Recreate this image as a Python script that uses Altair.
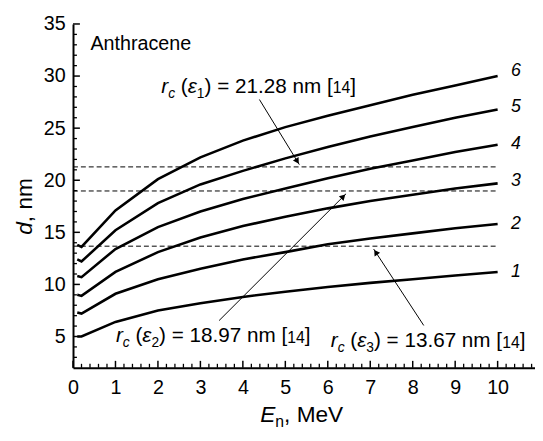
import math
import altair as alt
import pandas as pd

# ---------------- data ----------------
E_MEV = [0.1, 0.2, 1, 2, 3, 4, 5, 6, 7, 8, 9, 10]
D1 = [5.0, 5.0, 6.4, 7.5, 8.2, 8.8, 9.3, 9.75, 10.15, 10.5, 10.85, 11.2]
D2 = [7.3, 7.2, 9.1, 10.5, 11.5, 12.4, 13.1, 13.85, 14.4, 14.9, 15.4, 15.8]
D3 = [9.0, 8.9, 11.2, 13.1, 14.5, 15.6, 16.5, 17.3, 18.0, 18.6, 19.2, 19.7]
D4 = [10.8, 10.7, 13.4, 15.5, 17.0, 18.2, 19.2, 20.2, 21.1, 21.9, 22.7, 23.4]
D5 = [12.4, 12.2, 15.2, 17.8, 19.6, 20.9, 22.1, 23.2, 24.2, 25.1, 26.0, 26.8]
D6 = [13.8, 13.6, 17.1, 20.1, 22.2, 23.8, 25.1, 26.2, 27.2, 28.2, 29.1, 30.0]
CURVES = [D1, D2, D3, D4, D5, D6]
CURVE_NAMES = ["1", "2", "3", "4", "5", "6"]
CURVE_LABEL_Y = [11.2, 15.8, 19.9, 23.5, 27.0, 30.5]
CURVE_LABEL_X = 10.43

RC_LEVELS = [21.28, 18.97, 13.67]
RC_TEXT = ["21.28", "18.97", "13.67"]
EPS_INDEX = ["1", "2", "3"]
REF_TEXT = "14"
ANN_X = [2.08, 1.01, 6.07]
ANN_Y = [28.95, 5.03, 4.55]
ARROW_X1 = [4.39, 3.44, 8.26]
ARROW_Y1 = [27.75, 6.53, 6.06]
ARROW_X2 = [5.33, 6.43, 7.08]
ARROW_Y2 = [21.5, 18.7, 13.4]

SAMPLE_NAME = "Anthracene"
SAMPLE_X, SAMPLE_Y = 0.41, 33.1

X_TICKS = list(range(0, 11))
Y_TICKS = [5, 10, 15, 20, 25, 30, 35]
X_MINOR = [round(i * 0.2, 1) for i in range(0, 55) if i % 5 != 0]
Y_MINOR = [v for v in range(3, 35) if v % 5 != 0]

# ---------------- layout ----------------
FONT = "Liberation Sans"
X_MAX = 10.88
Y_MIN, Y_MAX = 2, 35
W, H = 469, 349
PX_X = W / X_MAX
PX_Y = H / (Y_MAX - Y_MIN)

xs = alt.Scale(domain=[0, X_MAX], nice=False, zero=False)
ys = alt.Scale(domain=[Y_MIN, Y_MAX], nice=False, zero=False)

XAXIS = alt.Axis(values=X_TICKS, title=None, grid=False, ticks=False, tickSize=0,
                 domainColor="black", domainWidth=2, labelFont=FONT, labelFontSize=20,
                 labelColor="black", labelPadding=10, labelFlush=False,
                 labelOverlap=False, format="d")
YAXIS = alt.Axis(values=Y_TICKS, title=None, grid=False, ticks=False, tickSize=0,
                 domainColor="black", domainWidth=2, labelFont=FONT, labelFontSize=20,
                 labelColor="black", labelPadding=8, labelFlush=False,
                 labelOverlap=False, format="d")


def X(f):
    return alt.X(f, type="quantitative", scale=xs, axis=XAXIS)


def Y(f):
    return alt.Y(f, type="quantitative", scale=ys, axis=YAXIS)


# ---------------- curves ----------------
rows = []
for name, vals in zip(CURVE_NAMES, CURVES):
    for e, d in zip(E_MEV, vals):
        rows.append({"x": e, "y": d, "c": name})
curves_df = pd.DataFrame(rows)
curves = alt.Chart(curves_df).mark_line(color="black", strokeWidth=2.6).encode(
    x=X("x"), y=Y("y"), detail="c:N", order="x:Q")

layers = [curves]

# dashed levels
lev_df = pd.DataFrame({"x": [0] * 3, "x2": [10] * 3, "y": RC_LEVELS})
layers.append(alt.Chart(lev_df).mark_rule(color="black", strokeWidth=1, strokeDash=[5, 3]).encode(
    x=X("x"), x2="x2", y=Y("y")))

# ticks (inward)
layers.append(alt.Chart(pd.DataFrame({"x": X_TICKS})).mark_rule(color="black", strokeWidth=1.5).encode(
    x=X("x"), y=alt.value(H), y2=alt.value(H - 7)))
layers.append(alt.Chart(pd.DataFrame({"x": X_MINOR})).mark_rule(color="black", strokeWidth=1.3).encode(
    x=X("x"), y=alt.value(H), y2=alt.value(H - 4)))
layers.append(alt.Chart(pd.DataFrame({"y": Y_TICKS})).mark_rule(color="black", strokeWidth=1.5).encode(
    y=Y("y"), x=alt.value(0), x2=alt.value(7)))
layers.append(alt.Chart(pd.DataFrame({"y": Y_MINOR})).mark_rule(color="black", strokeWidth=1.3).encode(
    y=Y("y"), x=alt.value(0), x2=alt.value(4)))

# arrows
arr_df = pd.DataFrame({"x": ARROW_X1, "y": ARROW_Y1, "x2": ARROW_X2, "y2": ARROW_Y2})
layers.append(alt.Chart(arr_df).mark_rule(color="black", strokeWidth=1).encode(
    x=X("x"), y=Y("y"), x2="x2", y2="y2"))
heads = []
for x1, y1, x2, y2 in zip(ARROW_X1, ARROW_Y1, ARROW_X2, ARROW_Y2):
    dxp = (x2 - x1) * PX_X
    dyp = -(y2 - y1) * PX_Y
    L = math.hypot(dxp, dyp)
    ang = math.degrees(math.atan2(dxp, -dyp)) % 360
    back = 4.0
    hx = x2 - (dxp / L) * back / PX_X
    hy = y2 + (dyp / L) * back / PX_Y
    heads.append({"x": hx, "y": hy, "a": ang})
layers.append(alt.Chart(pd.DataFrame(heads)).mark_point(
    shape="triangle-up", filled=True, color="black", opacity=1, size=45).encode(
    x=X("x"), y=Y("y"), angle=alt.Angle("a:Q", scale=None)))

# curve numbers
layers.append(alt.Chart(pd.DataFrame({"x": [CURVE_LABEL_X] * 6, "y": CURVE_LABEL_Y, "t": CURVE_NAMES}))
              .mark_text(font=FONT, fontSize=18, fontStyle="italic", color="black",
                         align="center", baseline="middle").encode(x=X("x"), y=Y("y"), text="t:N"))

# sample name
layers.append(alt.Chart(pd.DataFrame({"x": [SAMPLE_X], "y": [SAMPLE_Y], "t": [SAMPLE_NAME]}))
              .mark_text(font=FONT, fontSize=20, color="black", align="left", baseline="middle")
              .encode(x=X("x"), y=Y("y"), text="t:N"))

# ---------------- rich text helper ----------------
ARIAL = {" ": 0.278, "(": 0.333, ")": 0.333, "=": 0.584, ".": 0.278, ",": 0.278,
         "[": 0.278, "]": 0.278, "n": 0.556, "m": 0.833, "r": 0.333, "c": 0.5,
         "d": 0.556, "E": 0.667, "M": 0.833, "e": 0.556, "V": 0.667, "\u03b5": 0.44}


def tw(s, size):
    return sum(ARIAL.get(ch, 0.556) for ch in s) * size


def rich(pieces, xv=None, yv=None, px=None, angle=None):
    out = []
    off = 0.0
    for txt, italic, size, dy in pieces:
        lead = len(txt) - len(txt.lstrip(" "))
        off += tw(" " * lead, size)
        txt = txt.lstrip(" ")
        kw = dict(font=FONT, fontSize=size, color="black", align="left",
                  baseline="middle", dx=off, dy=dy)
        if italic:
            kw["fontStyle"] = "italic"
        if angle is not None:
            kw["angle"] = angle
        if px is None:
            ch = alt.Chart(pd.DataFrame({"x": [xv], "y": [yv], "t": [txt]})).mark_text(**kw).encode(
                x=X("x"), y=Y("y"), text="t:N")
        else:
            ch = alt.Chart(pd.DataFrame({"t": [txt]})).mark_text(**kw).encode(
                x=alt.value(px[0]), y=alt.value(px[1]), text="t:N")
        out.append(ch)
        off += tw(txt, size)
    return out


FS = 21
for i in range(3):
    pieces = [("r", True, FS, 0), ("c", True, 14, 7), (" (", False, FS, 0),
              ("\u03b5", True, FS, 0), (EPS_INDEX[i], False, 14, 7),
              (") = " + RC_TEXT[i] + " nm [", False, FS, 0), (REF_TEXT, False, 16, 1.5),
              ("]", False, FS, 0)]
    layers += rich(pieces, xv=ANN_X[i], yv=ANN_Y[i])

# axis titles
layers += rich([("E", True, 23, 0), ("n", False, 16, 7), (", MeV", False, 23, 0)], px=(190, 397))
layers += rich([("d", True, 23, 0), (", nm", False, 23, 0)], px=(-49, 214), angle=270)

chart = alt.layer(*layers).properties(
    width=W, height=H,
    autosize=alt.AutoSizeParams(type="none"),
    padding={"left": 66, "top": 13, "right": 0, "bottom": 62},
    background="white",
).configure_view(stroke=None)

chart.save("out.html", embed_options={"renderer": "svg", "actions": False})
